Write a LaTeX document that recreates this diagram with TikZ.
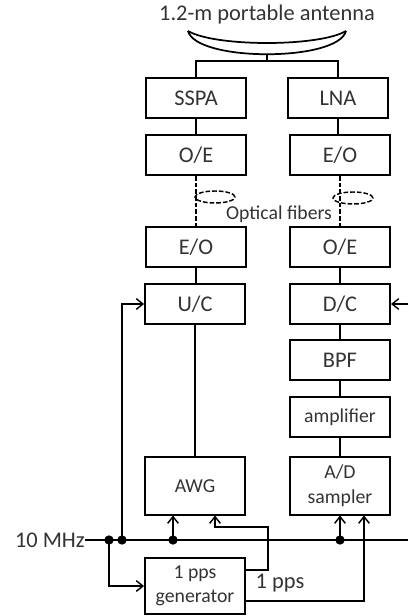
\documentclass[tikz,border=0pt]{standalone}
\usepackage{fontspec}
\setmainfont{Carlito}
\usepackage{xcolor}
\usepackage{tikz}
\usetikzlibrary{arrows.meta, calc, shapes.geometric}
\definecolor{labelgray}{gray}{0.2}
\tikzset{
    block/.style={draw=black, line width=1.4pt, minimum width=75pt, minimum height=30pt, inner sep=0pt, align=center, text=labelgray},
    thinblock/.style={block, line width=1pt},
    smallblock/.style={block, font=\fontsize{14.8}{18.5}\selectfont},
    tagtext/.style={inner sep=0pt, text=labelgray},
    link/.style={line width=1.1pt},
    sig/.style={line width=1.1pt, -{Straight Barb[length=5pt, width=8pt, line width=1.1pt]}},
    fiber/.style={line width=1.1pt, dash pattern=on 3.5pt off 1.5pt},
    ring/.style={draw=black, ellipse, line width=1.1pt, dash pattern=on 3.5pt off 1.5pt, minimum width=30pt, minimum height=9pt, inner sep=0pt},
    dot/.style={circle, fill=black, minimum size=7pt, inner sep=0pt}
}
\begin{document}
\begin{tikzpicture}[x=0.75pt, y=-0.75pt, font=\fontsize{16.8}{18.5}\selectfont]
    \useasboundingbox (0,0) rectangle (408,616);

    % Antenna
    \node[tagtext] (title) at (267,15) {1.2-m portable antenna};
    \coordinate (dishleft) at (188,31);
    \coordinate (dishright) at (346,31);
    \coordinate (dishbase) at (267,54);
    \coordinate (feed) at (267,61);
    \draw[line width=1.3pt] (dishleft) .. controls (215,47) and (319,47) .. (dishright);
    \draw[line width=1.3pt] (dishleft) .. controls (196,62) and (338,62) .. (dishright);

    % Transmit chain
    \node[thinblock] (sspa) at (196,98) {SSPA};
    \node[block] (oeup) at (196,155) {O/E};
    \node[block] (eodown) at (196,247) {E/O};
    \node[block] (upconv) at (195,304) {U/C};
    \node[smallblock, minimum height=43.5pt] (awg) at (195,486) {AWG};

    % Receive chain
    \node[thinblock] (lna) at (338,98) {LNA};
    \node[block] (eoup) at (340,155) {E/O};
    \node[block] (oedown) at (340,247) {O/E};
    \node[block] (downconv) at (340,304) {D/C};
    \node[block] (bpf) at (340,360) {BPF};
    \node[smallblock] (amp) at (340,417) {amplifier};
    \node[smallblock, minimum height=43.5pt] (sampler) at (340,486) {A/D\\sampler};

    % Reference signals
    \node[smallblock, minimum height=42pt] (pps) at (195,586) {1 pps\\generator};
    \node[tagtext, anchor=east] (refin) at (85,540) {10 MHz};
    \node[tagtext] (ppstext) at (280,583) {1 pps};
    \node[tagtext, font=\fontsize{14.8}{18.5}\selectfont] (fibertext) at (279,214) {Optical fibers};
    \coordinate (busend) at (408,540);
    \coordinate (dcin) at (408,304);
    \node[dot] (dotgen) at (109,540) {};
    \node[dot] (dotuc) at (122,540) {};
    \node[dot] (dotawg) at (173,540) {};
    \node[dot] (dotad) at (340,540) {};

    % Fibers
    \node[ring] (ringleft) at (215,197) {};
    \node[ring] (ringright) at (353,198) {};
    \draw[fiber] (oeup.south) -- (eodown.north);
    \draw[fiber] (eoup.south) -- (oedown.north);

    % Connections
    \draw[link] (dishbase) -- (feed);
    \draw[link] (sspa.north) |- (feed) -| (lna.north);
    \draw[link] (sspa.south) -- (oeup.north);
    \draw[link] (lna.south) -- (338,135);
    \draw[link] (eodown.south) -- (196,284);
    \draw[link] (upconv.south) -- (awg.north);
    \draw[link] (oedown.south) -- (downconv.north);
    \draw[link] (downconv.south) -- (bpf.north);
    \draw[link] (bpf.south) -- (amp.north);
    \draw[link] (amp.south) -- (sampler.north);
    \draw[link] (refin.east) -- (busend);
    \draw[sig] (dotuc.center) |- (upconv.west);
    \draw[sig] (dotgen.center) |- (pps.west);
    \draw[sig] (dotawg.center) -- (173,515.5);
    \draw[sig] (dotad.center) -- (340,515.5);
    \draw[sig] (dcin) -- (downconv.east);
    \draw[sig] (245,570) -- (268,570) -- (268,527) -- (215,527) -- (215,515.5);
    \draw[sig] (245,601) -- (364,601) -- (364,515.5);
\end{tikzpicture}
\end{document}
